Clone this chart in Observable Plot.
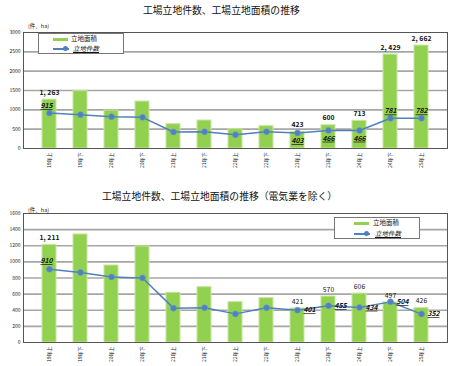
<!DOCTYPE html>
<html><head><meta charset="utf-8">
<script src="https://cdn.jsdelivr.net/npm/d3@7"></script>
<script src="https://cdn.jsdelivr.net/npm/@observablehq/plot@0.6"></script>
<style>
body{margin:0;background:#fff;font-family:"Noto Sans CJK JP",sans-serif;}
#wrap{position:relative;width:460px;height:366px;overflow:hidden;}
.title{position:absolute;font-size:9.8px;white-space:nowrap;color:#111;}
.unit{position:absolute;font-size:5.5px;color:#222;white-space:nowrap;}
.chart{position:absolute;left:0;}
.legend{position:absolute;background:#fff;border:1px solid #777;font-size:6.5px;color:#111;}
.legend .row{position:absolute;white-space:nowrap;}
.sw{position:absolute;height:3px;background:#92d050;}
.ln{position:absolute;height:1.5px;background:#4f81bd;}
.dt{position:absolute;width:5px;height:5px;border-radius:50%;background:#4f81bd;}
.it{font-style:italic;text-decoration:underline;}
g[font-style="italic"] text{text-decoration:underline;}
</style></head><body><div id="wrap"></div>
<script>
const periods = ["19年上","19年下","20年上","20年下","21年上","21年下","22年上","22年下","23年上","23年下","24年上","24年下","25年上"];
// chart 1: all industries
const area1  = [1263,1481,982,1214,628,724,499,576,423,600,713,2429,2662];
const count1 = [915,874,822,806,426,432,353,434,403,466,466,781,782];
const areaLabel1  = [0,8,9,10,11,12];
const countAboveLeft1 = [0];
const countBelow1 = [8,9,10];
const countAbove1 = [11,12];
// chart 2: excluding electric industry
const area2  = [1211,1340,955,1191,617,686,500,550,421,570,606,497,426];
const count2 = [910,868,813,800,426,430,355,430,401,455,434,504,352];
const areaLabel2  = [0,8,9,10,11,12];
const countAboveLeft2 = [0];
const countRight2 = [8,9,10,11,12];
const yTicks1 = [0,500,1000,1500,2000,2500,3000];
const yTicks2 = [0,200,400,600,800,1000,1200,1400,1600];
const title1 = "工場立地件数、工場立地面積の推移";
const title2 = "工場立地件数、工場立地面積の推移（電気業を除く）";
const unitText = "(件、ha)";
const legendArea = "立地面積";
const legendCount = "立地件数";

const fmt = d3.format(",");
const wrap = document.getElementById("wrap");

function add(html, cls, style){
  const d = document.createElement("div");
  d.className = cls; d.innerHTML = html; Object.assign(d.style, style); wrap.appendChild(d); return d;
}

function makeChart(area, count, areaLab, countGroups, yTicks, opts){
  const rows = periods.map((p,i)=>({period:p, area:area[i], count:count[i], i}));
  const green = "#92d050", blue = "#4f81bd";
  const pick = idx => rows.filter(r=>idx.includes(r.i));
  const countMarks = countGroups.map(g => Plot.text(pick(g.idx), {x:"period", y:"count", text:d=>String(d.count),
     dx:g.dx, dy:g.dy, fontSize:6.8, fontWeight:"bold", fontStyle:"italic", fill:"#111"}));
  const areaMarks = [
    Plot.text(pick(areaLab.filter(i=>i===0)), {x:"period", y:"area", text:d=>fmt(d.area).replace(",", ", "), dy:-7, fontSize:6.8, fontWeight:"bold", fill:"#111"}),
    Plot.text(pick(areaLab.filter(i=>i!==0)), {x:"period", y:"area", text:d=>fmt(d.area).replace(",", ", "), dy:-7, fontSize:6.8, fontWeight:opts.boldArea, fill:"#111"})
  ];
  return Plot.plot({
    width: 460, height: opts.height,
    marginLeft: 23, marginRight: 13, marginTop: opts.mt, marginBottom: opts.mb,
    style:{fontFamily:"'Noto Sans CJK JP',sans-serif", fontSize:"5px", background:"transparent", color:"#222"},
    x:{domain: periods, padding: 0.56, label:null, tickRotate:-90, tickSize:0, tickPadding:4},
    y:{domain:[0, yTicks[yTicks.length-1]], ticks: yTicks, tickFormat:d=>String(d), label:null, tickSize:0, tickPadding:3},
    marks:[
      Plot.gridY(yTicks.slice(1,-1), {stroke:"#a6a6a6", strokeOpacity:1, strokeWidth:1.6}),
      Plot.barY(rows, {x:"period", y:"area", fill:green, stroke:"#c4e59c", strokeWidth:1}),
      Plot.line(rows, {x:"period", y:"count", stroke:blue, strokeWidth:1.5}),
      Plot.dot(rows, {x:"period", y:"count", r:3, fill:blue, stroke:"#6f9bd0", strokeWidth:0.6}),
      ...areaMarks,
      ...countMarks,
      Plot.frame({stroke:"#555", strokeWidth:1})
    ]
  });
}

// ---- chart 1 ----
add(title1, "title", {left:"143px", top:"3px"});
const c1 = makeChart(area1, count1, areaLabel1, [
  {idx:countAboveLeft1, dx:-3, dy:-7},
  {idx:countBelow1, dx:0, dy:8},
  {idx:countAbove1, dx:0, dy:-7}
], yTicks1, {height:160, mt:14, mb:30, boldArea:"bold"});
c1.classList.add("chart"); c1.style.top = "18px"; wrap.appendChild(c1);
add(unitText, "unit", {left:"28px", top:"22px"});
const lg1 = add("", "legend", {left:"38px", top:"33px", width:"84px", height:"19px"});
lg1.innerHTML = '<div class="sw" style="left:14px;top:4px;width:15px"></div><div class="row" style="left:32px;top:-1px">'+legendArea+'</div>'+
  '<div class="ln" style="left:14px;top:14px;width:16px"></div><div class="dt" style="left:24px;top:12px"></div><div class="row it" style="left:34px;top:9px">'+legendCount+'</div>';

// ---- chart 2 ----
add(title2, "title", {left:"102px", top:"189px"});
const c2 = makeChart(area2, count2, areaLabel2, [
  {idx:countAboveLeft2, dx:-3, dy:-8},
  {idx:countRight2, dx:12, dy:0}
], yTicks2, {height:166, mt:13, mb:24, boldArea:"normal"});
c2.classList.add("chart"); c2.style.top = "200px"; wrap.appendChild(c2);
add(unitText, "unit", {left:"28px", top:"206px"});
const lg2 = add("", "legend", {left:"334px", top:"217px", width:"84px", height:"20px"});
lg2.innerHTML = '<div class="sw" style="left:19px;top:4px;width:15px"></div><div class="row" style="left:38px;top:-1px">'+legendArea+'</div>'+
  '<div class="ln" style="left:19px;top:15px;width:16px"></div><div class="dt" style="left:29px;top:13px"></div><div class="row it" style="left:40px;top:10px">'+legendCount+'</div>';
</script></body></html>
